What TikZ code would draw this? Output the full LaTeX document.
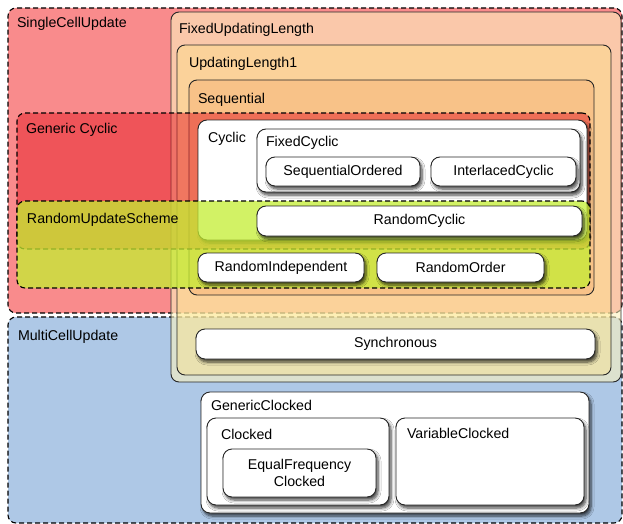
\documentclass[tikz,border=0pt]{standalone}
\usepackage{fontspec}
\setmainfont{Liberation Sans}
\usetikzlibrary{shadows,shadows.blur}
\definecolor{pinkfill}{RGB}{249,139,140}
\definecolor{bluefill}{RGB}{174,200,230}
\definecolor{fulfill}{RGB}{251,242,190}
\definecolor{ulfill}{RGB}{253,227,131}
\definecolor{seqfill}{RGB}{246,180,120}
\definecolor{gcfill}{RGB}{230,30,40}
\definecolor{rusfill}{RGB}{196,238,50}
\begin{document}
\begin{tikzpicture}[x=1pt,y=-1pt,
  every node/.style={font=\fontsize{14.2}{17}\selectfont, inner sep=0pt, outer sep=0pt},
  region/.style={draw=black, dash pattern=on 5pt off 3pt, line width=1.1pt, rounded corners=8pt, anchor=north west},
  container/.style={draw=black!85, line width=0.9pt, rounded corners=8pt, anchor=north west},
  wbox/.style={draw=black!85, line width=0.9pt, fill=white, rounded corners=9pt, anchor=north west,
    blur shadow={shadow xshift=2pt, shadow yshift=-3pt, shadow blur radius=3pt, shadow blur steps=6, shadow opacity=75}},
  ttl/.style={anchor=base west},
]
\useasboundingbox (0,0) rectangle (623,524);
% regions
\node[region, fill=pinkfill, minimum width=614, minimum height=305] (scu) at (8,8) {};
\node[region, fill=bluefill, minimum width=614, minimum height=206] (mcu) at (8,317) {};
\node[ttl] (scut) at (17,28) {SingleCellUpdate};
\node[ttl] (mcut) at (18,340) {MultiCellUpdate};
% containers
\node[container, fill=fulfill, fill opacity=0.6, minimum width=450, minimum height=370] (ful) at (171,12) {};
\node[container, fill=ulfill, fill opacity=0.4, minimum width=434, minimum height=330] (ul) at (177,45) {};
\node[container, fill=seqfill, fill opacity=0.5, minimum width=405, minimum height=215] (seq) at (189,80) {};
\node[ttl] (fult) at (179,34) {FixedUpdatingLength};
\node[ttl] (ult) at (189,68) {UpdatingLength1};
\node[ttl] (seqt) at (198,103) {Sequential};
% generic cyclic
\node[region, fill=gcfill, fill opacity=0.5, minimum width=573, minimum height=136] (gc) at (17,113) {};
\node[ttl] (gct) at (26,133) {Generic Cyclic};
% cyclic
\node[wbox, minimum width=389, minimum height=120] (cyc) at (198,120) {};
\node[ttl] (cyct) at (208,142) {Cyclic};
\node[wbox, minimum width=323, minimum height=63] (fcy) at (257,129) {};
\node[ttl] (fcyt) at (266,146) {FixedCyclic};
\node[wbox, minimum width=154, minimum height=29] (so) at (266,157) {};
\node (sot) at (so.center) {SequentialOrdered};
\node[wbox, minimum width=145, minimum height=29] (ic) at (431,157) {};
\node (ict) at (ic.center) {InterlacedCyclic};
% random update scheme
\node[region, fill=rusfill, fill opacity=0.75, minimum width=573, minimum height=87] (rus) at (17,201) {};
\node[ttl] (rust) at (27,223) {RandomUpdateScheme};
\node[wbox, minimum width=325, minimum height=30] (rc) at (257,206) {};
\node (rct) at (rc.center) {RandomCyclic};
\node[wbox, minimum width=166, minimum height=29] (ri) at (198,253) {};
\node (rit) at (ri.center) {RandomIndependent};
\node[wbox, minimum width=167, minimum height=29] (ro) at (377,253) {};
\node (rot) at (ro.center) {RandomOrder};
% synchronous
\node[wbox, minimum width=399, minimum height=30] (syn) at (196,329) {};
\node (synt) at (syn.center) {Synchronous};
% clocked
\node[wbox, minimum width=388, minimum height=121] (gcl) at (201,392) {};
\node[ttl] (gclt) at (211,410) {GenericClocked};
\node[wbox, minimum width=182, minimum height=87] (clk) at (207,418) {};
\node[ttl] (clkt) at (221,439) {Clocked};
\node[wbox, minimum width=153, minimum height=48] (eqf) at (223,449) {};
\node[align=center] (eqft) at (eqf.center) {EqualFrequency\\Clocked};
\node[wbox, minimum width=188, minimum height=87] (vcl) at (396,418) {};
\node[ttl] (vclt) at (407,438) {VariableClocked};
\end{tikzpicture}
\end{document}
